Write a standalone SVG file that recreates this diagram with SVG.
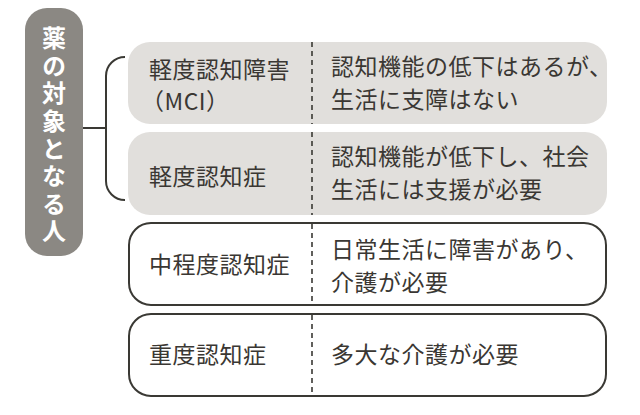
<svg xmlns="http://www.w3.org/2000/svg" width="640" height="415" viewBox="0 0 640 415">
<style>
.t{font-family:"Noto Sans CJK JP","Noto Sans CJK SC",sans-serif;font-size:23px;letter-spacing:0.5px;fill:#3a3733}
.v{font-family:"Noto Sans CJK JP","Noto Sans CJK SC",sans-serif;font-size:24px;font-weight:bold;fill:#ffffff;writing-mode:vertical-rl;letter-spacing:3.6px}
.g{fill:#e1dfdc}
.w{fill:#ffffff;stroke:#3a3934;stroke-width:2}
.d{stroke:#3a3934;stroke-width:1.6;stroke-dasharray:5,4;fill:none}
.c{stroke:#3a3934;stroke-width:2;fill:none}
</style>
<rect width="640" height="415" fill="#ffffff"/>
<g id="target">
<rect x="25" y="8" width="58" height="248" rx="22" fill="#8b8883"/>
<text class="v" x="54" y="26">薬の対象となる人</text>
</g>
<g id="connectors">
<path class="c" d="M83 128H106"/>
<path class="c" d="M125 57A19 19 0 0 0 106 76V181A19 19 0 0 0 125 200"/>
</g>
<g id="mci">
<rect class="g" x="128" y="42" width="479" height="82" rx="22"/>
<path class="d" d="M312 42V124"/>
<text class="t" x="149" y="78">軽度認知障害</text>
<text class="t" x="141" y="110">（MCI）</text>
<text class="t" x="331" y="75">認知機能の低下はあるが、</text>
<text class="t" x="331" y="108">生活に支障はない</text>
</g>
<g id="mild">
<rect class="g" x="128" y="132" width="479" height="83" rx="22"/>
<path class="d" d="M312 132V215"/>
<text class="t" x="149" y="185">軽度認知症</text>
<text class="t" x="331" y="165">認知機能が低下し、社会</text>
<text class="t" x="331" y="198">生活には支援が必要</text>
</g>
<g id="moderate">
<rect class="w" x="129" y="223" width="477" height="82" rx="22"/>
<path class="d" d="M312 224V304"/>
<text class="t" x="149" y="273">中程度認知症</text>
<text class="t" x="331" y="258">日常生活に障害があり、</text>
<text class="t" x="331" y="291">介護が必要</text>
</g>
<g id="severe">
<rect class="w" x="129" y="314" width="477" height="82" rx="22"/>
<path class="d" d="M312 315V395"/>
<text class="t" x="149" y="363">重度認知症</text>
<text class="t" x="331" y="363">多大な介護が必要</text>
</g>
</svg>
